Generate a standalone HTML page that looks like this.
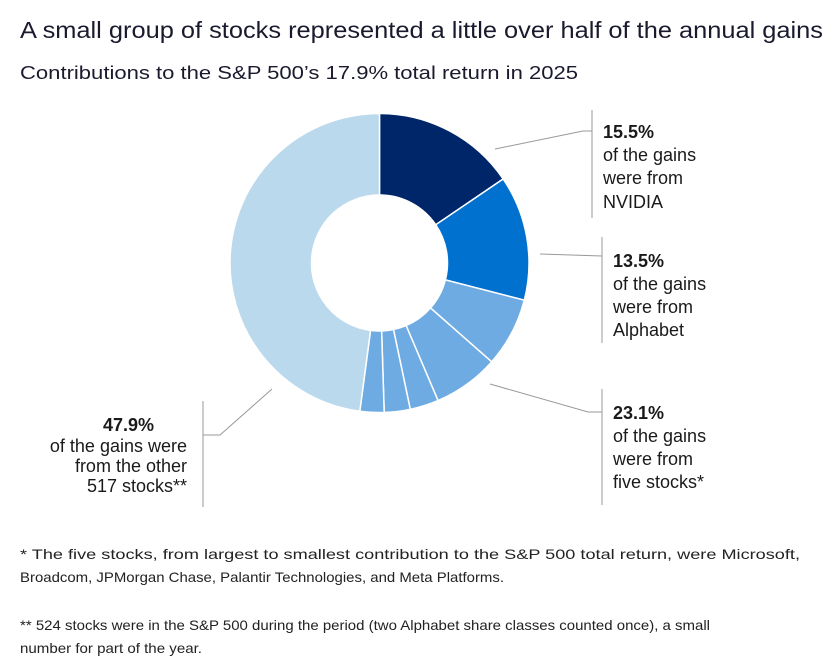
<!DOCTYPE html>
<html><head><meta charset="utf-8"><style>
html,body{margin:0;padding:0;background:#fff;}
svg{display:block;font-family:"Liberation Sans",sans-serif;}
</style></head><body>
<svg id="chart" width="838" height="672" viewBox="0 0 838 672">
<text x="20" y="38" font-size="23" fill="#1a1a2e" textLength="803" lengthAdjust="spacingAndGlyphs">A small group of stocks represented a little over half of the annual gains</text>
<text x="20" y="79" font-size="18" fill="#1a1a2e" textLength="558" lengthAdjust="spacingAndGlyphs">Contributions to the S&amp;P 500’s 17.9% total return in 2025</text>
<g id="slices"></g>
<g stroke="#999" stroke-width="1" fill="none">
<polyline points="495,149 583,131 592,131"/>
<line x1="592" y1="110" x2="592" y2="218"/>
<polyline points="540,254 602,256"/>
<line x1="602" y1="237" x2="602" y2="343"/>
<polyline points="490,384 588,412 602,412"/>
<line x1="602" y1="389" x2="602" y2="505"/>
<polyline points="272,389 220,435 203,435"/>
<line x1="203" y1="401" x2="203" y2="507"/>
</g>
<g font-size="18" fill="#1a1a1a">
<text x="603" y="138" font-weight="bold">15.5%</text>
<text x="603" y="161">of the gains</text>
<text x="603" y="184">were from</text>
<text x="603" y="208">NVIDIA</text>
</g>
<g font-size="18" fill="#1a1a1a">
<text x="613" y="267" font-weight="bold">13.5%</text>
<text x="613" y="290">of the gains</text>
<text x="613" y="313">were from</text>
<text x="613" y="336">Alphabet</text>
</g>
<g font-size="18" fill="#1a1a1a">
<text x="613" y="419" font-weight="bold">23.1%</text>
<text x="613" y="442">of the gains</text>
<text x="613" y="465">were from</text>
<text x="613" y="488">five stocks*</text>
</g>
<g font-size="18" fill="#1a1a1a" text-anchor="end">
<text x="154" y="431" font-weight="bold">47.9%</text>
<text x="187" y="452">of the gains were</text>
<text x="187" y="472">from the other</text>
<text x="187" y="492">517 stocks**</text>
</g>
<g font-size="14" fill="#222">
<text x="20" y="559" textLength="780" lengthAdjust="spacingAndGlyphs">* The five stocks, from largest to smallest contribution to the S&amp;P 500 total return, were Microsoft,</text>
<text x="20" y="582" textLength="484" lengthAdjust="spacingAndGlyphs">Broadcom, JPMorgan Chase, Palantir Technologies, and Meta Platforms.</text>
<text x="20" y="630" textLength="690" lengthAdjust="spacingAndGlyphs">** 524 stocks were in the S&amp;P 500 during the period (two Alphabet share classes counted once), a small</text>
<text x="20" y="653" textLength="182" lengthAdjust="spacingAndGlyphs">number for part of the year.</text>
</g>
</svg>
<script>
const categories = ["NVIDIA","Alphabet","Stock 1","Stock 2","Stock 3","Stock 4","Stock 5","Other 517 stocks"];
const values = [15.5, 13.5, 7.5, 7.1, 3.1, 2.8, 2.6, 47.9];
const colors = ["#00266a","#0071ce","#6eabe2","#6eabe2","#6eabe2","#6eabe2","#6eabe2","#bad9ec"];
const cx = 379.5, cy = 263, R = 149.5, r = 68;
const total = values.reduce((a,b)=>a+b,0);
function angle(v){ return v / total * 2 * Math.PI; }
function pt(a, rad){ return [cx + rad*Math.sin(a), cy - rad*Math.cos(a)]; }
const g = document.getElementById('slices');
let acc = 0;
values.forEach((v,i)=>{
  const a0 = angle(acc), a1 = angle(acc+v); acc += v;
  const large = (a1-a0) > Math.PI ? 1 : 0;
  const p0 = pt(a0,R), p1 = pt(a1,R), q1 = pt(a1,r), q0 = pt(a0,r);
  const d = `M${p0[0]},${p0[1]} A${R},${R} 0 ${large} 1 ${p1[0]},${p1[1]} L${q1[0]},${q1[1]} A${r},${r} 0 ${large} 0 ${q0[0]},${q0[1]} Z`;
  const path = document.createElementNS('http://www.w3.org/2000/svg','path');
  path.setAttribute('d', d);
  path.setAttribute('fill', colors[i]);
  path.setAttribute('stroke', '#fff');
  path.setAttribute('stroke-width', '1.5');
  
  
  g.appendChild(path);
});
</script>
</body></html>
